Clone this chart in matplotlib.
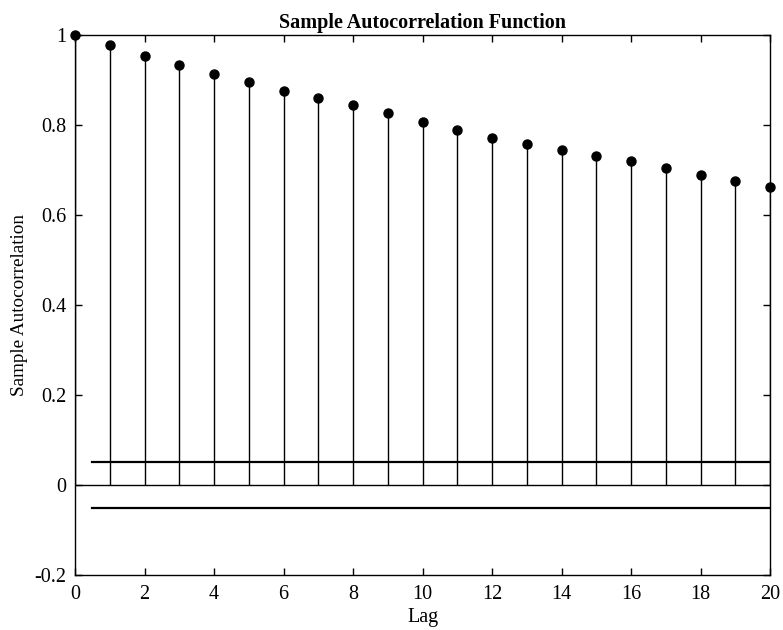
import numpy as np
import matplotlib.pyplot as plt
from matplotlib.ticker import FuncFormatter

plt.rcParams['font.family'] = ['Liberation Serif', 'DejaVu Serif']

lags = np.arange(0, 21)
acf = [1.0, 0.978, 0.953, 0.933, 0.914, 0.895, 0.876, 0.859, 0.844, 0.826,
       0.807, 0.789, 0.772, 0.758, 0.744, 0.732, 0.720, 0.705, 0.689, 0.676, 0.663]
bound = 0.0515
bound_x = [0.5, 20]

fig = plt.figure(figsize=(7.83, 6.3), dpi=100)
ax = fig.add_axes([0.0958, 0.0873, 0.8876, 0.8571])

markers, stems, base = ax.stem(lags, acf, linefmt='k-', markerfmt='ko', basefmt='k-')
plt.setp(stems, linewidth=1.0)
plt.setp(markers, markersize=6.5, clip_on=False, zorder=5)
plt.setp(base, linewidth=1.0)

ax.plot(bound_x, [bound, bound], color='k', linewidth=1.6)
ax.plot(bound_x, [-bound, -bound], color='k', linewidth=1.6)

ax.set_xlim(0, 20)
ax.set_ylim(-0.2, 1)
ax.set_xticks(np.arange(0, 21, 2))
ax.set_yticks(np.arange(-0.2, 1.01, 0.2))
ax.yaxis.set_major_formatter(FuncFormatter(lambda v, p: '%g' % round(v, 1)))
ax.tick_params(direction='in', top=True, right=True, length=5, width=1,
               labelsize=14.5)
ax.tick_params(axis='x', pad=7)
ax.tick_params(axis='y', pad=6)
for s in ax.spines.values():
    s.set_linewidth(1.0)

ax.set_title('Sample Autocorrelation Function', fontsize=14.5, fontweight='bold', pad=5)
ax.set_xlabel('Lag', fontsize=14.5, labelpad=3)
ax.set_ylabel('Sample Autocorrelation', fontsize=13.8, labelpad=5)

plt.savefig('out.png', dpi=100)
